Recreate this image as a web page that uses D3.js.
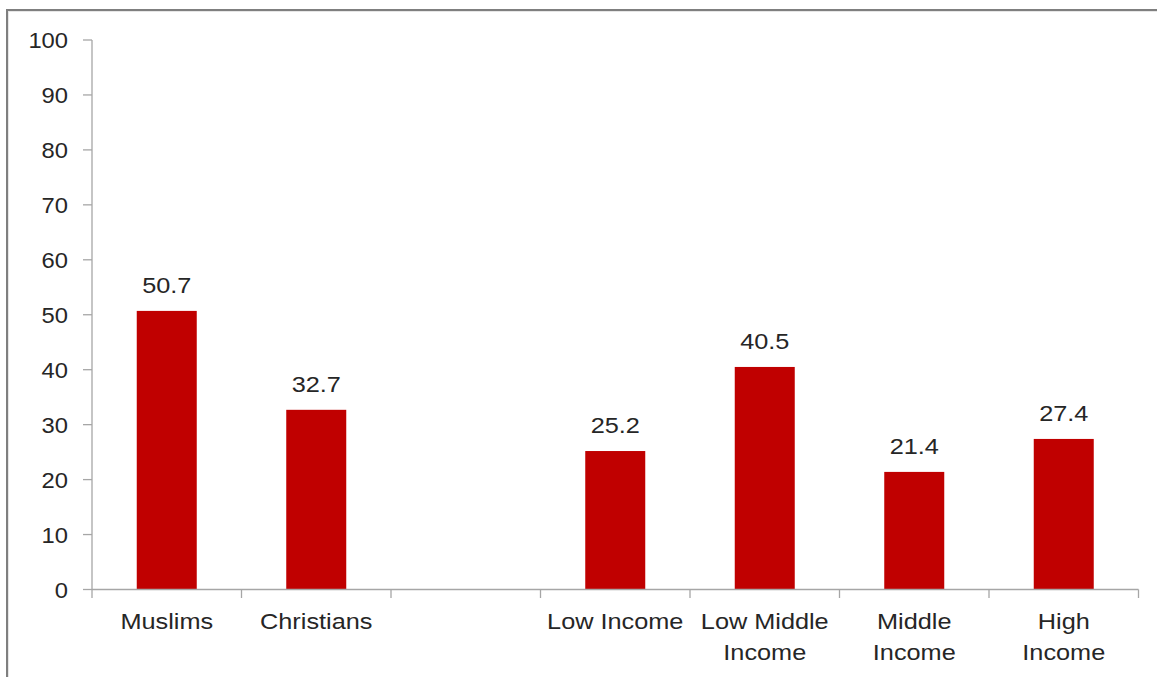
<!DOCTYPE html>
<html>
<head>
<meta charset="utf-8">
<script src="https://cdn.jsdelivr.net/npm/d3@7"></script>
<style>
  html, body { margin: 0; padding: 0; background: #fff; }
  svg { display: block; }
  text { font-family: "Liberation Sans", Arial, sans-serif; fill: #262626; }
</style>
</head>
<body>
<script>
// Share of respondents by religion and income group
const categories = ["Muslims", "Christians", "", "Low Income", "Low Middle Income", "Middle Income", "High Income"];
const categoryLines = [["Muslims"], ["Christians"], [], ["Low Income"], ["Low Middle", "Income"], ["Middle", "Income"], ["High", "Income"]];
const values = [50.7, 32.7, null, 25.2, 40.5, 21.4, 27.4];
const yTicks = [0, 10, 20, 30, 40, 50, 60, 70, 80, 90, 100];

const W = 1157, H = 677;
const fontSize = 22;
const stretch = 1.15;

const svg = d3.select("body").append("svg").attr("width", W).attr("height", H);

// frame
svg.append("line").attr("x1", 8).attr("x2", 8).attr("y1", 10).attr("y2", H)
  .attr("stroke", "#e6e6e6").attr("stroke-width", 2);
svg.append("line").attr("x1", 7).attr("x2", W).attr("y1", 11).attr("y2", 11)
  .attr("stroke", "#e6e6e6").attr("stroke-width", 2);
svg.append("line").attr("x1", 7).attr("x2", 7).attr("y1", 9.5).attr("y2", H)
  .attr("stroke", "#7f7f7f").attr("stroke-width", 2);
svg.append("line").attr("x1", 6).attr("x2", W).attr("y1", 10).attr("y2", 10)
  .attr("stroke", "#7f7f7f").attr("stroke-width", 2);

const x = d3.scaleBand().domain(categories.map((c, i) => i)).range([92, 1138.5]).paddingInner(0).paddingOuter(0);
const y = d3.scaleLinear().domain([0, 100]).range([589.5, 40]);

const axisColor = "#a6a6a6";

// y axis
const gy = svg.append("g");
gy.append("line").attr("x1", 92).attr("x2", 92).attr("y1", y(100)).attr("y2", y(0))
  .attr("stroke", axisColor).attr("stroke-width", 1.3);
gy.selectAll("line.tick").data(yTicks).join("line").attr("class", "tick")
  .attr("x1", 83).attr("x2", 92).attr("y1", d => y(d)).attr("y2", d => y(d))
  .attr("stroke", axisColor).attr("stroke-width", 1.3);
gy.selectAll("text").data(yTicks).join("text")
  .attr("transform", d => `translate(68,${y(d) + 8}) scale(1.08,1)`)
  .attr("text-anchor", "end").attr("font-size", fontSize)
  .text(d => d);

// bars
const barW = 60;
svg.selectAll("rect.bar").data(values.map((v, i) => ({ v, i })).filter(d => d.v !== null))
  .join("rect").attr("class", "bar")
  .attr("x", d => x(d.i) + x.bandwidth() / 2 - barW / 2)
  .attr("width", barW)
  .attr("y", d => y(d.v))
  .attr("height", d => y(0) - y(d.v))
  .attr("fill", "#c00000");

// value labels
svg.selectAll("text.val").data(values.map((v, i) => ({ v, i })).filter(d => d.v !== null))
  .join("text").attr("class", "val")
  .attr("transform", d => `translate(${x(d.i) + x.bandwidth() / 2},${y(d.v) - 18}) scale(${stretch},1)`)
  .attr("text-anchor", "middle").attr("font-size", fontSize)
  .text(d => d.v.toFixed(1));

// x axis
const gx = svg.append("g");
gx.append("line").attr("x1", 92).attr("x2", 1138.5).attr("y1", y(0)).attr("y2", y(0))
  .attr("stroke", axisColor).attr("stroke-width", 1.3);
const bounds = categories.map((c, i) => x(i)).concat([x(categories.length - 1) + x.bandwidth()]);
gx.selectAll("line.tick").data(bounds).join("line").attr("class", "tick")
  .attr("x1", d => d).attr("x2", d => d).attr("y1", y(0)).attr("y2", y(0) + 8.5)
  .attr("stroke", axisColor).attr("stroke-width", 1.3);

const labels = gx.selectAll("text").data(categoryLines.map((lines, i) => ({ lines, i })))
  .join("text")
  .attr("transform", d => `translate(${x(d.i) + x.bandwidth() / 2},629) scale(${stretch},1)`)
  .attr("text-anchor", "middle").attr("font-size", fontSize);
labels.selectAll("tspan").data(d => d.lines).join("tspan")
  .attr("x", 0).attr("y", (d, k) => k * 31)
  .text(d => d);
</script>
</body>
</html>
